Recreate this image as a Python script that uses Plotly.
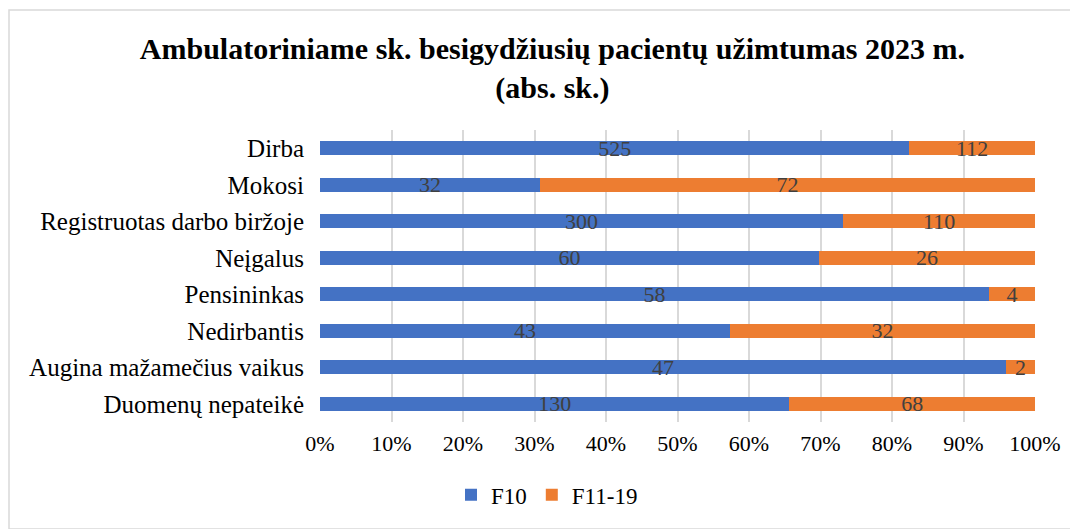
import plotly.graph_objects as go

categories = ["Dirba", "Mokosi", "Registruotas darbo biržoje", "Neįgalus",
              "Pensininkas", "Nedirbantis", "Augina mažamečius vaikus", "Duomenų nepateikė"]
f10 = [525, 32, 300, 60, 58, 43, 47, 130]
f11_19 = [112, 72, 110, 26, 4, 32, 2, 68]
x_ticks = [0, 10, 20, 30, 40, 50, 60, 70, 80, 90, 100]

totals = [a + b for a, b in zip(f10, f11_19)]
p10 = [a / t * 100 for a, t in zip(f10, totals)]
p11 = [b / t * 100 for b, t in zip(f11_19, totals)]

font_family = "Liberation Serif, Times New Roman, serif"
label_font = dict(family=font_family, size=22, color="#404040")

L, R, T, B = 312, 51, 122, 115
PW, PH = 1078 - L - R, 529 - T - B

fig = go.Figure()
fig.add_trace(go.Bar(
    name="F10", y=categories, x=p10, orientation="h",
    marker=dict(color="#4472C4", line=dict(width=0)),
    text=[str(v) for v in f10], textposition="inside", insidetextanchor="middle",
    textangle=0, constraintext="none", textfont=label_font, hoverinfo="skip",
))
fig.add_trace(go.Bar(
    name="F11-19", y=categories, x=p11, orientation="h",
    marker=dict(color="#ED7D31", line=dict(width=0)),
    text=[str(v) for v in f11_19], textposition="inside", insidetextanchor="middle",
    textangle=0, constraintext="none", textfont=label_font, hoverinfo="skip",
))

fig.update_layout(
    barmode="stack",
    bargap=0.62,
    width=1078, height=529,
    margin=dict(l=L, r=R, t=T, b=B, autoexpand=False),
    paper_bgcolor="white", plot_bgcolor="white",
    font=dict(family=font_family, size=22, color="black"),
    title=dict(
        text="<b>Ambulatoriniame sk. besigydžiusių pacientų užimtumas 2023 m.<br>(abs. sk.)</b>",
        x=0.505, xanchor="center", y=0.903, yanchor="middle",
        font=dict(family=font_family, size=30, color="black"),
    ),
    legend=dict(
        orientation="h", xref="container", x=0.50, xanchor="center",
        yref="container", y=0.08, yanchor="middle",
        font=dict(family=font_family, size=23, color="#000000"),
        traceorder="normal",
    ),
    showlegend=True,
)
fig.update_xaxes(
    range=[0, 100], tickvals=x_ticks, ticktext=[f"{v}%" for v in x_ticks],
    showgrid=True, gridcolor="#D9D9D9", gridwidth=2, zeroline=False,
    ticks="outside", ticklen=2, tickcolor="rgba(0,0,0,0)",
    tickfont=dict(family=font_family, size=22, color="black"), automargin=False,
)
fig.update_yaxes(
    categoryorder="array", categoryarray=categories, autorange="reversed",
    showgrid=False, zeroline=False, showline=False,
    ticks="outside", ticklen=10, tickcolor="rgba(0,0,0,0)",
    tickfont=dict(family=font_family, size=25, color="black"), automargin=False,
)
# outer chart border
fig.add_shape(type="rect", xref="paper", yref="paper",
              x0=(1 - L) / PW, x1=(1067 - L) / PW,
              y0=(PH + T - 521) / PH, y1=(PH + T - 2) / PH,
              line=dict(color="#D9D9D9", width=1.5), fillcolor="rgba(0,0,0,0)", layer="below")

fig.write_html("out.html")
